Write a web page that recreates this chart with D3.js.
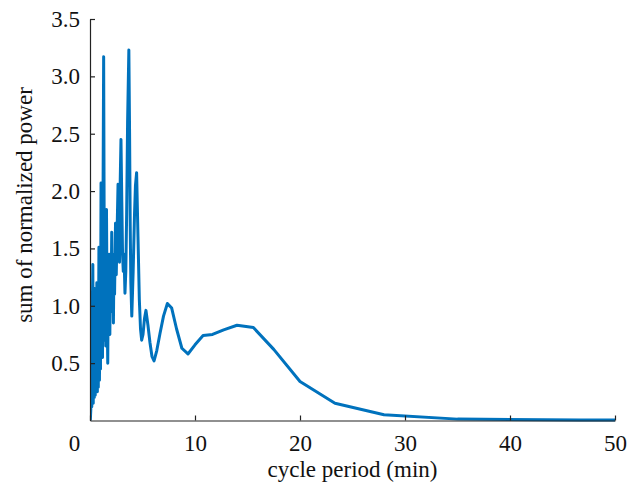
<!DOCTYPE html>
<html>
<head>
<meta charset="utf-8">
<script src="https://cdn.jsdelivr.net/npm/d3@7"></script>
<style>
  body { margin: 0; background: #fff; }
  text { font-family: "Liberation Serif", "Times New Roman", serif; }
</style>
</head>
<body>
<div id="chart"></div>
<script>
// cycle period (min) and summed normalized power
const period = [
  0.03, 0.08, 0.12, 0.17, 0.22, 0.27, 0.31, 0.36, 0.41, 0.46,
  0.50, 0.55, 0.60, 0.65, 0.70, 0.74, 0.79, 0.85, 0.90, 0.95,
  1.00, 1.05, 1.10, 1.14, 1.19, 1.24, 1.30, 1.36, 1.41, 1.46,
  1.50, 1.57, 1.62, 1.69, 1.74, 1.79, 1.84, 1.89, 1.93, 2.00,
  2.07, 2.12, 2.17, 2.23, 2.29, 2.34, 2.43, 2.50, 2.57, 2.67,
  2.74, 2.81, 2.88, 2.95, 3.03, 3.10, 3.17, 3.24, 3.33, 3.41,
  3.49, 3.58, 3.70, 3.77, 3.83, 3.89, 3.98, 4.11, 4.24, 4.33,
  4.44, 4.57, 4.70, 4.81, 4.92, 5.05, 5.19, 5.33, 5.52, 5.71,
  5.90, 6.10, 6.36, 6.67, 7.00, 7.37, 7.78, 8.24, 8.75, 9.33,
  10.0, 10.77, 11.67, 12.73, 14.0, 15.56, 17.5, 20.0, 23.33, 28.0,
  35.0, 46.67, 70.0
];
const power = [
  0.00, 0.10, 0.45, 0.12, 0.95, 1.36, 0.15, 1.05, 0.20, 1.15,
  0.22, 0.95, 0.30, 1.20, 0.25, 1.10, 0.29, 1.51, 0.35, 1.25,
  0.45, 2.07, 0.60, 1.20, 0.55, 1.90, 3.17, 1.40, 0.70, 1.20,
  0.65, 1.84, 1.10, 0.50, 1.25, 0.80, 1.45, 0.75, 1.20, 0.95,
  1.64, 1.00, 1.35, 0.85, 1.45, 1.10, 1.72, 1.27, 1.60, 2.06,
  1.80, 1.38, 2.10, 2.45, 1.90, 1.45, 1.30, 1.45, 1.11, 1.30,
  1.80, 2.60, 3.23, 2.50, 1.70, 1.20, 0.91, 1.30, 1.80, 2.05,
  2.16, 1.60, 1.05, 0.80, 0.70, 0.75, 0.89, 0.96, 0.83, 0.68,
  0.56, 0.52, 0.61, 0.76, 0.91, 1.02, 0.98, 0.80, 0.63, 0.58,
  0.66, 0.74, 0.75, 0.79, 0.83, 0.81, 0.62, 0.34, 0.15, 0.05,
  0.012, 0.004, 0.002
];

const xTicks = [0, 10, 20, 30, 40, 50];
const yTicks = [0.5, 1.0, 1.5, 2.0, 2.5, 3.0, 3.5];

const width = 627;
const height = 488;
const margin = { left: 90, right: 12, top: 19, bottom: 67 };

const svg = d3.select("#chart")
  .append("svg")
  .attr("width", width)
  .attr("height", height);

const x = d3.scaleLinear()
  .domain([0, 50])
  .range([margin.left, width - margin.right]);

const y = d3.scaleLinear()
  .domain([0, 3.5])
  .range([height - margin.bottom - 0.5, margin.top]);

const data = period.map((p, i) => ({ p: p, v: power[i] }));

svg.append("clipPath")
  .attr("id", "plot-area")
  .append("rect")
  .attr("x", margin.left)
  .attr("y", margin.top - 5)
  .attr("width", x(50) - margin.left)
  .attr("height", y(0) - margin.top + 10);

// spectrum line
const line = d3.line()
  .x(d => x(d.p))
  .y(d => y(d.v));

svg.append("path")
  .datum(data)
  .attr("clip-path", "url(#plot-area)")
  .attr("fill", "none")
  .attr("stroke", "#0072BD")
  .attr("stroke-width", 3)
  .attr("stroke-linejoin", "round")
  .attr("d", line);

// x axis, ticks pointing inward
const xAxis = svg.append("g")
  .attr("transform", `translate(0,${y(0)})`)
  .call(d3.axisBottom(x).tickValues(xTicks).tickSizeInner(-5).tickSizeOuter(0).tickPadding(14));

xAxis.selectAll("text")
  .attr("font-size", "23px")
  .attr("fill", "#111")
  .attr("dx", d => d === 0 ? -16 : 0);

// y axis, ticks pointing inward
const yAxis = svg.append("g")
  .attr("transform", `translate(${margin.left},0)`)
  .call(d3.axisLeft(y).tickValues(yTicks).tickFormat(d3.format(".1f")).tickSizeInner(-5).tickSizeOuter(0).tickPadding(10));

yAxis.selectAll("text")
  .attr("font-size", "23px")
  .attr("fill", "#111");

svg.selectAll(".domain")
  .attr("stroke", "#222")
  .attr("stroke-width", 1.2);
svg.selectAll(".tick line")
  .attr("stroke", "#222")
  .attr("stroke-width", 1.2);

// axis titles
svg.append("text")
  .attr("x", (x(0) + x(50)) / 2)
  .attr("y", 477)
  .attr("text-anchor", "middle")
  .attr("font-size", "23px")
  .attr("fill", "#111")
  .text("cycle period (min)");

svg.append("text")
  .attr("transform", "translate(32,205) rotate(-90)")
  .attr("text-anchor", "middle")
  .attr("font-size", "23px")
  .attr("fill", "#111")
  .text("sum of normalized power");
</script>
</body>
</html>
